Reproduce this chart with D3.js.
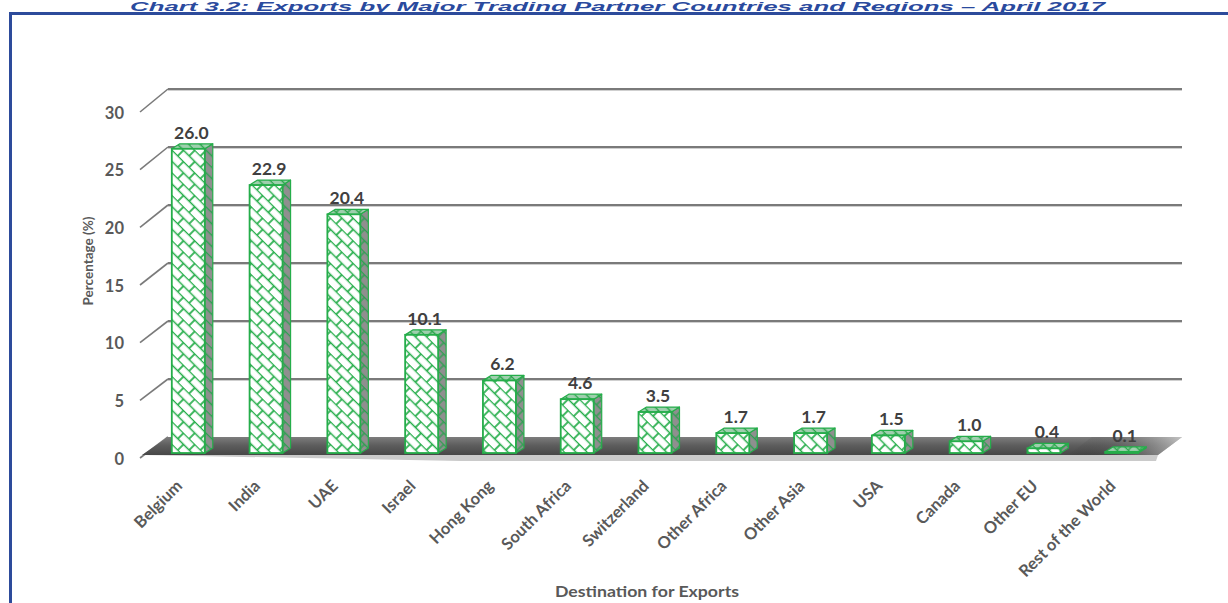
<!DOCTYPE html>
<html>
<head>
<meta charset="utf-8">
<script src="https://cdn.jsdelivr.net/npm/d3@7"></script>
<style>
  html, body { margin: 0; padding: 0; background: #ffffff; }
  svg { display: block; }
</style>
</head>
<body>
<svg id="chart" width="1228" height="603"></svg>
<script>
// ---------- data ----------
const chartTitle = "Chart 3.2: Exports by Major Trading Partner Countries and Regions \u2013 April 2017";
const categories = ["Belgium", "India", "UAE", "Israel", "Hong Kong", "South Africa", "Switzerland",
  "Other Africa", "Other Asia", "USA", "Canada", "Other EU", "Rest of the World"];
const values = [26.0, 22.9, 20.4, 10.1, 6.2, 4.6, 3.5, 1.7, 1.7, 1.5, 1.0, 0.4, 0.1];
const yTicks = [0, 5, 10, 15, 20, 25, 30];
const yTitle = "Percentage (%)";
const xTitle = "Destination for Exports";

// ---------- layout ----------
const svg = d3.select("#chart");
const FONT = "Lato, 'Open Sans', 'DejaVu Sans', sans-serif";
const GREEN = "#25ad4a";
const TEXT = "#595959";

const x = d3.scaleBand().domain(categories).range([127, 1183]).paddingInner(0.576).paddingOuter(0.576);
const yBack = d3.scaleLinear().domain([0, 30]).range([437, 89]);
const yFront = d3.scaleLinear().domain([0, 30]).range([459, 113]);
const yBar = d3.scaleLinear().domain([0, 30]).range([453, 102]);
const DX = 28;
const backLeft = 168, backRight = 1182;
const bdx = 8, bdy = 5;         // bar depth

const defs = svg.append("defs");
function brick(id, bg, stroke, sw) {
  const p = defs.append("pattern").attr("id", id)
    .attr("patternUnits", "userSpaceOnUse").attr("width", 16).attr("height", 16)
    .attr("patternTransform", "rotate(45)");
  p.append("rect").attr("width", 16).attr("height", 16).attr("fill", bg);
  const g = p.append("g").attr("stroke", stroke).attr("stroke-width", sw).attr("fill", "none");
  g.append("path").attr("d", "M-1,0.5H17 M-1,8.5H17 M4,0.5V8.5 M12,8.5V16.5");
}
brick("patFront", "#ffffff", GREEN, 1.7);
brick("patSide", "#8f8f8f", "#2f9f52", 1.4);
brick("patTop", "#9fcfae", "#2aa64b", 1.4);

const fg = defs.append("linearGradient").attr("id", "floorGrad").attr("x1", 0).attr("y1", 0).attr("x2", 0).attr("y2", 1);
fg.append("stop").attr("offset", 0).attr("stop-color", "#7d7d7d");
fg.append("stop").attr("offset", 0.45).attr("stop-color", "#5e5e5e");
fg.append("stop").attr("offset", 1).attr("stop-color", "#474747");

const fr = defs.append("linearGradient").attr("id", "floorRight").attr("x1", 0).attr("y1", 0).attr("x2", 1).attr("y2", 0);
fr.append("stop").attr("offset", 0).attr("stop-color", "#000").attr("stop-opacity", 0);
fr.append("stop").attr("offset", 1).attr("stop-color", "#fff").attr("stop-opacity", 0.55);

// ---------- frame & title ----------
svg.append("rect").attr("x", 0).attr("y", 0).attr("width", 1228).attr("height", 603).attr("fill", "#fff");
svg.append("text").attr("x", 130).attr("y", 10.5)
  .attr("font-family", "'Liberation Sans', Arial, sans-serif").attr("font-weight", "bold").attr("font-style", "italic")
  .attr("font-size", 13).attr("fill", "#2a4a9e")
  .attr("textLength", 975).attr("lengthAdjust", "spacingAndGlyphs")
  .text(chartTitle);
svg.append("path").attr("d", "M10.5,603 V13.5 H1228").attr("fill", "none")
  .attr("stroke", "#2d4b9b").attr("stroke-width", 3);

// ---------- walls / gridlines ----------
const grid = svg.append("g");
yTicks.forEach(v => {
  const yb = yBack(v), yf = yFront(v) - 1;
  grid.append("line").attr("x1", backLeft - DX).attr("y1", yf).attr("x2", backLeft).attr("y2", yb)
    .attr("stroke", "#7a7a7a").attr("stroke-width", 1.6);
  if (v > 0) {
    grid.append("line").attr("x1", backLeft).attr("y1", yb + 1.5).attr("x2", backRight).attr("y2", yb + 1.5)
      .attr("stroke", "#cfcfcf").attr("stroke-width", 1.2);
    grid.append("line").attr("x1", backLeft).attr("y1", yb).attr("x2", backRight).attr("y2", yb)
      .attr("stroke", "#7a7a7a").attr("stroke-width", 1.8);
  }
});

// floor
const fy0 = yBack(0), fy1 = yBar(0) + 2;
svg.append("path")
  .attr("d", `M${backLeft},${fy0} H${backRight} L${backRight - 24},${fy1} H${backLeft - 26} Z`)
  .attr("fill", "url(#floorGrad)");
svg.append("path")
  .attr("d", `M${backRight - 90},${fy0} H${backRight} L${backRight - 24},${fy1} H${backRight - 114} Z`)
  .attr("fill", "url(#floorRight)");
svg.append("path")
  .attr("d", `M${backLeft - 26},${fy1} H${backRight - 24} L${backRight - 26},${fy1 + 6} H${backLeft - DX},${fy1 + 6} Z`)
  .attr("fill", "#cacaca");

// y tick labels
svg.append("g").selectAll("text").data(yTicks).join("text")
  .attr("x", 124).attr("y", d => yFront(d))
  .attr("dy", "0.35em").attr("text-anchor", "end")
  .attr("font-family", FONT).attr("font-weight", "bold").attr("font-size", 16.5).attr("fill", TEXT)
  .text(d => d);

// ---------- bars ----------
const bw = x.bandwidth();
const bars = svg.append("g").selectAll("g").data(categories.map((c, i) => ({ c, v: values[i] }))).join("g");
bars.each(function (d) {
  const g = d3.select(this);
  const x0 = x(d.c), x1 = x0 + bw, yt = yBar(d.v), yb = yBar(0);
  g.append("path")
    .attr("d", `M${x1},${yt} L${x1 + bdx},${yt - bdy} V${yb - bdy} L${x1},${yb} Z`)
    .attr("fill", "url(#patSide)").attr("stroke", GREEN).attr("stroke-width", 1.2).attr("stroke-linejoin", "round");
  g.append("path")
    .attr("d", `M${x0},${yt} L${x0 + bdx},${yt - bdy} H${x1 + bdx} L${x1},${yt} Z`)
    .attr("fill", "url(#patTop)").attr("stroke", GREEN).attr("stroke-width", 1.2).attr("stroke-linejoin", "round");
  g.append("rect").attr("x", x0).attr("y", yt).attr("width", bw).attr("height", yb - yt)
    .attr("fill", "url(#patFront)").attr("stroke", GREEN).attr("stroke-width", 1.8);
});

// data labels
svg.append("g").selectAll("text").data(categories.map((c, i) => ({ c, v: values[i] }))).join("text")
  .attr("x", d => x(d.c) + bw / 2 + 3).attr("y", d => yBar(d.v) - 10)
  .attr("text-anchor", "middle")
  .attr("font-family", FONT).attr("font-weight", "bold").attr("font-size", 17.5).attr("fill", "#404040")
  .text(d => d.v.toFixed(1));

// category labels
svg.append("g").selectAll("text").data(categories).join("text")
  .attr("transform", d => `translate(${x(d) + bw / 2 - 5},487) rotate(-45)`)
  .attr("text-anchor", "end")
  .attr("font-family", FONT).attr("font-weight", "bold").attr("font-size", 16.5).attr("fill", TEXT)
  .text(d => d);

// axis titles
svg.append("text").attr("transform", "translate(93,261) rotate(-90)")
  .attr("text-anchor", "middle")
  .attr("font-family", FONT).attr("font-weight", "bold").attr("font-size", 13.5).attr("fill", TEXT)
  .text(yTitle);
svg.append("text").attr("x", 647).attr("y", 597).attr("text-anchor", "middle")
  .attr("font-family", FONT).attr("font-weight", "bold").attr("font-size", 15.5).attr("fill", TEXT)
  .attr("textLength", 184).attr("lengthAdjust", "spacingAndGlyphs")
  .text(xTitle);
</script>
</body>
</html>
